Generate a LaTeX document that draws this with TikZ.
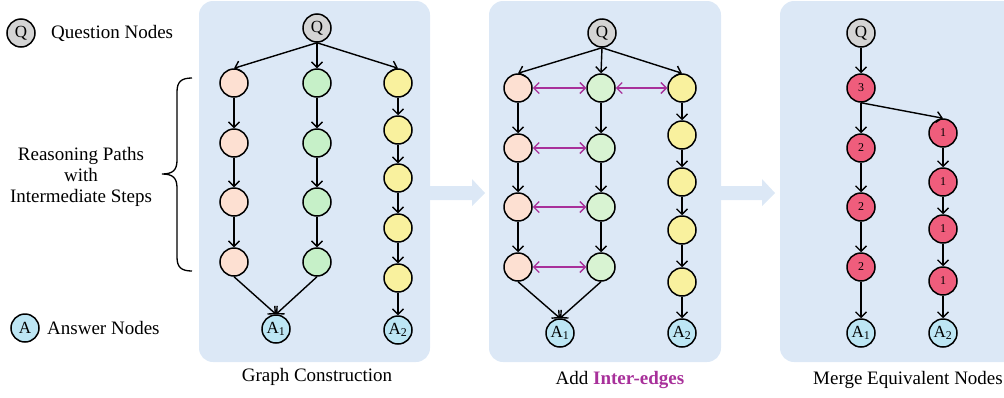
\documentclass[tikz,border=0pt]{standalone}
\usepackage{fontspec}
\setmainfont{Liberation Serif}
\usetikzlibrary{arrows.meta}
\definecolor{panelbg}{RGB}{220,232,246}
\definecolor{qgray}{RGB}{212,212,212}
\definecolor{ablue}{RGB}{189,230,244}
\definecolor{peach}{RGB}{253,224,210}
\definecolor{greenA}{RGB}{198,240,200}
\definecolor{greenB}{RGB}{216,243,210}
\definecolor{yell}{RGB}{249,241,158}
\definecolor{redn}{RGB}{239,93,124}
\definecolor{interpurple}{RGB}{168,48,154}
\begin{document}
\begin{tikzpicture}[x=1pt,y=-1pt,
  nd/.style={circle,draw=black,line width=1.5pt,minimum size=28pt,inner sep=0pt,
    font=\fontsize{17}{19}\selectfont},
  qn/.style={nd,fill=qgray},
  an/.style={nd,fill=ablue},
  pn/.style={nd,fill=peach},
  gnA/.style={nd,fill=greenA},
  gnB/.style={nd,fill=greenB},
  yn/.style={nd,fill=yell},
  rn/.style={nd,fill=redn,font=\fontsize{12}{14}\selectfont},
  arr/.style={line width=1.4pt,-{Straight Barb[length=5.5pt,width=11pt,line width=1.4pt]}},
  inter/.style={line width=1.4pt,draw=interpurple,
    {Straight Barb[length=5.5pt,width=11pt,line width=1.4pt]}-{Straight Barb[length=5.5pt,width=11pt,line width=1.4pt]}},
  panel/.style={fill=panelbg,rounded corners=14pt},
  bigarrow/.style={fill=panelbg},
  txt/.style={font=\fontsize{19}{22}\selectfont,inner sep=0pt},
  bracestyle/.style={line width=1.3pt}
]
\useasboundingbox (0,0) rectangle (1004,397);
\clip (0,0) rectangle (1004,397);

% panels
\fill[panel] (199,1) rectangle (430,362);
\fill[panel] (489,1) rectangle (721,362);
\fill[panel] (780,1) rectangle (1030,362);

% big arrows
\fill[bigarrow] (430,186) -- (472,186) -- (472,179) -- (485,193) -- (472,206) -- (472,200) -- (430,200) -- cycle;
\fill[bigarrow] (721,186) -- (762,186) -- (762,179) -- (775,193) -- (762,206) -- (762,200) -- (721,200) -- cycle;

% legend
\node[qn] (lq) at (21,33) {Q};
\node[txt,anchor=west] (lqt) at (51,33) {Question Nodes};
\node[an] (la) at (25,328) {A};
\node[txt,anchor=west] (lat) at (47,328) {Answer Nodes};
\node[txt,align=center] (reason) at (81,177) {Reasoning Paths\\[-1pt]with\\[-1pt]Intermediate Steps};
\draw[bracestyle] (192,78) .. controls (181,78) and (177,82) .. (177,92) -- (177,160)
  .. controls (177,170) and (173,174) .. (162,174)
  .. controls (173,174) and (177,178) .. (177,188) -- (177,257)
  .. controls (177,267) and (181,271) .. (192,271);

% ---------- panel 1 ----------
\node[qn] (q1) at (317,28) {Q};
\node[pn] (p1a1) at (234,83) {};
\node[pn] (p1a2) at (234,143) {};
\node[pn] (p1a3) at (234,202) {};
\node[pn] (p1a4) at (234,262) {};
\node[gnA] (p1b1) at (317,83) {};
\node[gnA] (p1b2) at (317,143) {};
\node[gnA] (p1b3) at (317,202) {};
\node[gnA] (p1b4) at (317,262) {};
\node[yn] (p1c1) at (398,83) {};
\node[yn] (p1c2) at (398,130) {};
\node[yn] (p1c3) at (398,178) {};
\node[yn] (p1c4) at (398,228) {};
\node[yn] (p1c5) at (398,278) {};
\node[an] (p1A1) at (276,329) {A\textsubscript{1}};
\node[an] (p1A2) at (398,330) {A\textsubscript{2}};
\draw[arr] (q1.south) -- (p1a1.north);
\draw[arr] (q1.south) -- (p1b1.north);
\draw[arr] (q1.south) -- (p1c1.north);
\draw[arr] (p1a1) -- (p1a2);
\draw[arr] (p1a2) -- (p1a3);
\draw[arr] (p1a3) -- (p1a4);
\draw[arr] (p1b1) -- (p1b2);
\draw[arr] (p1b2) -- (p1b3);
\draw[arr] (p1b3) -- (p1b4);
\draw[arr] (p1c1) -- (p1c2);
\draw[arr] (p1c2) -- (p1c3);
\draw[arr] (p1c3) -- (p1c4);
\draw[arr] (p1c4) -- (p1c5);
\draw[arr] (p1c5) -- (p1A2);
\draw[arr] (p1a4.south) -- (p1A1.north);
\draw[arr] (p1b4.south) -- (p1A1.north);
\node[txt] (cap1) at (317,377) {Graph Construction};

% ---------- panel 2 ----------
\node[qn] (q2) at (602,33) {Q};
\node[pn] (p2a1) at (518,88) {};
\node[pn] (p2a2) at (518,148) {};
\node[pn] (p2a3) at (518,207) {};
\node[pn] (p2a4) at (518,267) {};
\node[gnB] (p2b1) at (601,88) {};
\node[gnB] (p2b2) at (601,148) {};
\node[gnB] (p2b3) at (601,207) {};
\node[gnB] (p2b4) at (601,267) {};
\node[yn] (p2c1) at (682,88) {};
\node[yn] (p2c2) at (682,135) {};
\node[yn] (p2c3) at (682,182) {};
\node[yn] (p2c4) at (682,230) {};
\node[yn] (p2c5) at (682,282) {};
\node[an] (p2A1) at (560,333) {A\textsubscript{1}};
\node[an] (p2A2) at (682,333) {A\textsubscript{2}};
\draw[arr] (q2.south) -- (p2a1.north);
\draw[arr] (q2.south) -- (p2b1.north);
\draw[arr] (q2.south) -- (p2c1.north);
\draw[arr] (p2a1) -- (p2a2);
\draw[arr] (p2a2) -- (p2a3);
\draw[arr] (p2a3) -- (p2a4);
\draw[arr] (p2b1) -- (p2b2);
\draw[arr] (p2b2) -- (p2b3);
\draw[arr] (p2b3) -- (p2b4);
\draw[arr] (p2c1) -- (p2c2);
\draw[arr] (p2c2) -- (p2c3);
\draw[arr] (p2c3) -- (p2c4);
\draw[arr] (p2c4) -- (p2c5);
\draw[arr] (p2c5) -- (p2A2);
\draw[arr] (p2a4.south) -- (p2A1.north);
\draw[arr] (p2b4.south) -- (p2A1.north);
\draw[inter] (p2a1) -- (p2b1);
\draw[inter] (p2b1) -- (p2c1);
\draw[inter] (p2a2) -- (p2b2);
\draw[inter] (p2a3) -- (p2b3);
\draw[inter] (p2a4) -- (p2b4);
\node[txt] (cap2) at (620,380) {Add \textbf{\color{interpurple}Inter-edges}};

% ---------- panel 3 ----------
\node[qn] (q3) at (861,33) {Q};
\node[rn] (m3) at (861,88) {3};
\node[rn] (m2a) at (861,148) {2};
\node[rn] (m2b) at (861,207) {2};
\node[rn] (m2c) at (861,267) {2};
\node[an] (p3A1) at (861,333) {A\textsubscript{1}};
\node[rn] (m1a) at (943,133) {1};
\node[rn] (m1b) at (943,182) {1};
\node[rn] (m1c) at (943,229) {1};
\node[rn] (m1d) at (943,281) {1};
\node[an] (p3A2) at (943,333) {A\textsubscript{2}};
\draw[arr] (q3) -- (m3);
\draw[arr] (m3) -- (m2a);
\draw[arr] (m2a) -- (m2b);
\draw[arr] (m2b) -- (m2c);
\draw[arr] (m2c) -- (p3A1);
\draw[arr] (m3.south) -- (m1a.north);
\draw[arr] (m1a) -- (m1b);
\draw[arr] (m1b) -- (m1c);
\draw[arr] (m1c) -- (m1d);
\draw[arr] (m1d) -- (p3A2);
\node[txt] (cap3) at (908,380) {Merge Equivalent Nodes};
\end{tikzpicture}
\end{document}
